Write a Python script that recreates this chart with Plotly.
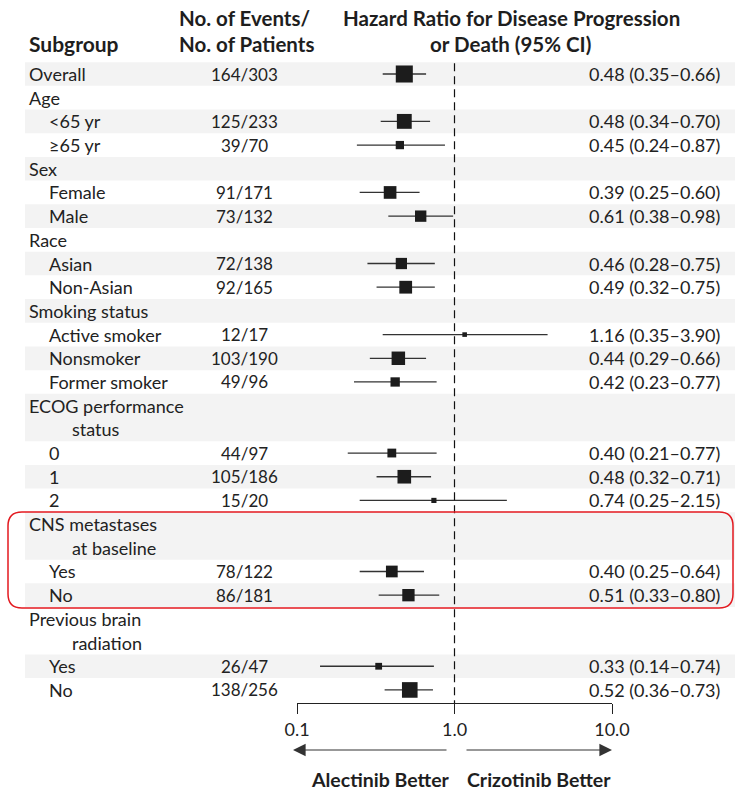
import math
import plotly.graph_objects as go

# Subgroup rows, top to bottom (continuation lines of two-line headers included)
subgroups = [
    "Overall", "Age", "<65 yr", "≥65 yr", "Sex", "Female", "Male",
    "Race", "Asian", "Non-Asian", "Smoking status", "Active smoker",
    "Nonsmoker", "Former smoker", "ECOG performance", "status", "0", "1", "2",
    "CNS metastases", "at baseline", "Yes", "No", "Previous brain",
    "radiation", "Yes", "No",
]
# 0 = category heading, 1 = subgroup, 2 = continuation of a heading
levels = [0, 0, 1, 1, 0, 1, 1, 0, 1, 1, 0, 1, 1, 1, 0, 2, 1, 1, 1,
          0, 2, 1, 1, 0, 2, 1, 1]
events = [
    "164/303", "", "125/233", "39/70", "", "91/171", "73/132",
    "", "72/138", "92/165", "", "12/17", "103/190", "49/96", "", "",
    "44/97", "105/186", "15/20", "", "", "78/122", "86/181", "", "",
    "26/47", "138/256",
]
hazard_ratio = [0.48, None, 0.48, 0.45, None, 0.39, 0.61, None, 0.46, 0.49,
                None, 1.16, 0.44, 0.42, None, None, 0.40, 0.48, 0.74, None,
                None, 0.40, 0.51, None, None, 0.33, 0.52]
ci_low = [0.35, None, 0.34, 0.24, None, 0.25, 0.38, None, 0.28, 0.32,
          None, 0.35, 0.29, 0.23, None, None, 0.21, 0.32, 0.25, None,
          None, 0.25, 0.33, None, None, 0.14, 0.36]
ci_high = [0.66, None, 0.70, 0.87, None, 0.60, 0.98, None, 0.75, 0.75,
           None, 3.90, 0.66, 0.77, None, None, 0.77, 0.71, 2.15, None,
           None, 0.64, 0.80, None, None, 0.74, 0.73]
axis_ticks = [0.1, 1, 10]
axis_ticktext = ["0.1", "1.0", "10.0"]

W, H = 735, 794
FONT = "Lato, 'Open Sans', sans-serif"
TXT = "#222222"
FS = 18
HFS = 20.5

def px(x):
    return x / W

def py(y):
    return 1 - y / H

# vertical layout: row centres in pixels map onto the row index
ROW0, ROWSTEP = 74.0, 23.69
AXIS_Y, TOP_Y = 703.0, 62.0
y_range = [(AXIS_Y - ROW0) / ROWSTEP, (TOP_Y - ROW0) / ROWSTEP]

rows = list(range(len(subgroups)))
idx = [i for i in rows if hazard_ratio[i] is not None]

fig = go.Figure()

# squares sized by event count, horizontal lines for the 95% CI
sizes = [1.33 * math.sqrt(int(events[i].split("/")[0])) for i in idx]
fig.add_trace(go.Scatter(
    x=[hazard_ratio[i] for i in idx],
    y=[rows[i] for i in idx],
    mode="markers",
    marker=dict(symbol="square", size=sizes, color="#1c1c1c", opacity=1,
                line=dict(width=0)),
    error_x=dict(type="data", symmetric=False,
                 array=[ci_high[i] - hazard_ratio[i] for i in idx],
                 arrayminus=[hazard_ratio[i] - ci_low[i] for i in idx],
                 width=0, thickness=1.3, color="#333333"),
    hoverinfo="skip", showlegend=False,
))

shapes = []
# alternating shaded bands, one per subgroup item (two-line headings share one)
band = 0
i = 0
while i < len(rows):
    j = i
    while j + 1 < len(rows) and levels[j + 1] == 2:
        j += 1
    if band % 2 == 0:
        shapes.append(dict(type="rect", xref="paper", yref="y",
                           x0=px(25), x1=1, y0=i - 0.5, y1=j + 0.5,
                           fillcolor="#f3f3f3", line=dict(width=0),
                           layer="below"))
    band += 1
    i = j + 1

# reference line at HR = 1
shapes.append(dict(type="line", xref="x", yref="y", x0=1, x1=1,
                   y0=y_range[1] + 0.05, y1=y_range[0],
                   line=dict(color="#111111", width=1.2, dash="8px,5px")))

# rounded highlight box around the CNS metastases subgroup
bx0, bx1, by0, by1, r = 8, 733, 512, 608, 14
path = (f"M {px(bx0 + r)},{py(by0)} L {px(bx1 - r)},{py(by0)} "
        f"Q {px(bx1)},{py(by0)} {px(bx1)},{py(by0 + r)} "
        f"L {px(bx1)},{py(by1 - r)} "
        f"Q {px(bx1)},{py(by1)} {px(bx1 - r)},{py(by1)} "
        f"L {px(bx0 + r)},{py(by1)} "
        f"Q {px(bx0)},{py(by1)} {px(bx0)},{py(by1 - r)} "
        f"L {px(bx0)},{py(by0 + r)} "
        f"Q {px(bx0)},{py(by0)} {px(bx0 + r)},{py(by0)} Z")
shapes.append(dict(type="path", xref="paper", yref="paper", path=path,
                   line=dict(color="#e3191f", width=1.5),
                   fillcolor="rgba(0,0,0,0)"))

annotations = []
indent = {0: 27, 1: 47, 2: 70}
for i in rows:
    annotations.append(dict(
        x=px(indent[levels[i]]), y=rows[i], xref="paper", yref="y",
        text=subgroups[i], showarrow=False, xanchor="left", yanchor="middle",
        font=dict(family=FONT, size=FS, color=TXT)))
    if events[i]:
        annotations.append(dict(
            x=px(244), y=rows[i], xref="paper", yref="y", text=events[i],
            showarrow=False, xanchor="center", yanchor="middle",
            font=dict(family=FONT, size=17, color=TXT)))
    if hazard_ratio[i] is not None:
        label = f"{hazard_ratio[i]:.2f} ({ci_low[i]:.2f}–{ci_high[i]:.2f})"
        annotations.append(dict(
            x=px(722), y=rows[i], xref="paper", yref="y", text=label,
            showarrow=False, xanchor="right", yanchor="middle",
            font=dict(family=FONT, size=FS, color=TXT)))

def header(text, x, y, anchor, size=HFS):
    annotations.append(dict(
        x=px(x), y=py(y), xref="paper", yref="paper", text=f"<b>{text}</b>",
        showarrow=False, xanchor=anchor, yanchor="middle",
        font=dict(family=FONT, size=size, color="#1e1e1e")))

header("Subgroup", 27, 44, "left", 21)
header("No. of Events/", 177, 18, "left")
header("No. of Patients", 177, 44, "left")
header("Hazard Ratio for Disease Progression", 512, 18, "center")
header("or Death (95% CI)", 510, 44, "center")
header("Alectinib Better", 380, 779, "center", 19.5)
header("Crizotinib Better", 539, 779, "center", 19.5)

# direction arrows under the axis
for head, tail in [(293, 448), (612, 465)]:
    annotations.append(dict(
        x=px(head), y=py(750), xref="paper", yref="paper", text="",
        showarrow=True, ax=tail - head, ay=0, axref="pixel", ayref="pixel",
        arrowhead=2, arrowsize=2.3, arrowwidth=1.1, arrowcolor="#333333"))

fig.update_layout(
    width=W, height=H,
    margin=dict(l=0, r=0, t=0, b=0, autoexpand=False),
    paper_bgcolor="white", plot_bgcolor="rgba(0,0,0,0)",
    xaxis=dict(type="log", range=[-1, 1], domain=[px(297), px(612)],
               tickvals=axis_ticks, ticktext=axis_ticktext,
               ticks="outside", ticklen=10, tickwidth=1.2, tickcolor="#222222",
               showline=True, linecolor="#222222", linewidth=1.2,
               showgrid=False, zeroline=False, automargin=False,
               tickfont=dict(family=FONT, size=FS, color=TXT),
               fixedrange=True),
    yaxis=dict(range=y_range, domain=[py(AXIS_Y), py(TOP_Y)],
               visible=False, fixedrange=True, automargin=False),
    shapes=shapes, annotations=annotations,
)

fig.write_html("out.html")
